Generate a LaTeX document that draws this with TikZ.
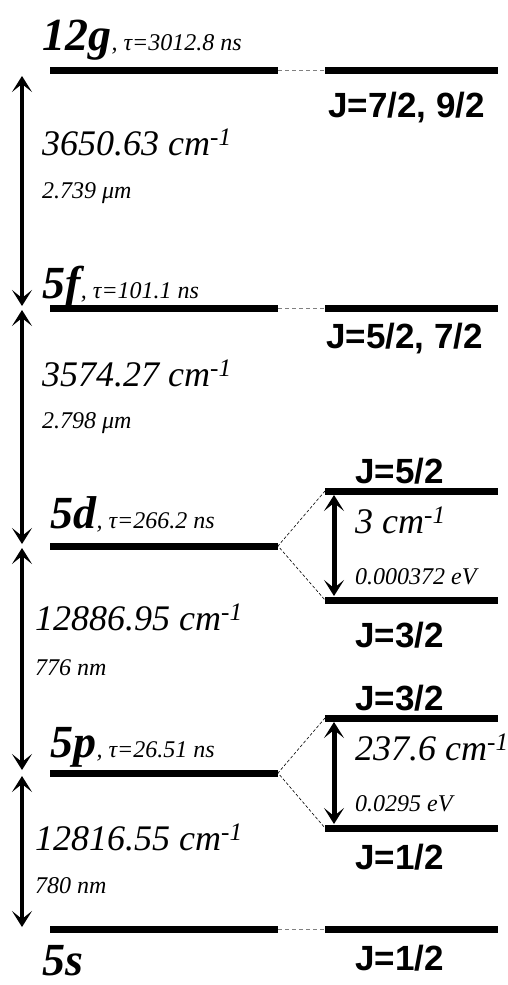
\documentclass[tikz,border=0pt]{standalone}
\usepackage{fontspec}
\setmainfont{Liberation Serif}
\newfontfamily\jfont{Liberation Sans}
\usetikzlibrary{arrows.meta, positioning, calc}
\tikzset{
  lvl/.style={line width=7pt, line cap=butt, black},
  link/.style={dashed, line width=0.8pt, dash pattern=on 4pt off 3pt, #1},
  link/.default=gray,
  gap/.style={{Stealth[length=16pt, width=20pt, inset=8pt]}-{Stealth[length=16pt, width=20pt, inset=8pt]}, line width=#1},
  gap/.default=4pt,
  term/.style={font=\fontsize{46}{50}\selectfont\bfseries\itshape, anchor=base west, inner sep=0pt},
  life/.style={font=\fontsize{24}{27}\selectfont\itshape, anchor=base west, inner sep=0pt},
  wnum/.style={font=\fontsize{36}{40}\selectfont\itshape, anchor=base west, inner sep=0pt},
  wlen/.style={font=\fontsize{24}{28}\selectfont\itshape, anchor=base west, inner sep=0pt},
  jlbl/.style={font=\jfont\fontsize{35}{40}\selectfont\bfseries, anchor=base west, inner sep=0pt},
}

\begin{document}
\begin{tikzpicture}[x=1pt, y=-1pt]
  \useasboundingbox (0,0) rectangle (508,985);

  % level end points
  \coordinate (g12L) at (50,70);   \coordinate (g12M) at (278,70);
  \coordinate (g12N) at (325,70);  \coordinate (g12R) at (498,70);
  \coordinate (f5L) at (50,308);   \coordinate (f5M) at (278,308);
  \coordinate (f5N) at (325,308);  \coordinate (f5R) at (498,308);
  \coordinate (d5L) at (50,546);   \coordinate (d5M) at (278,546);
  \coordinate (d5aN) at (325,491); \coordinate (d5aR) at (498,491);
  \coordinate (d5bN) at (325,600); \coordinate (d5bR) at (498,600);
  \coordinate (p5L) at (50,773);   \coordinate (p5M) at (278,773);
  \coordinate (p5aN) at (325,718); \coordinate (p5aR) at (498,718);
  \coordinate (p5bN) at (325,828); \coordinate (p5bR) at (498,828);
  \coordinate (s5L) at (50,929);   \coordinate (s5M) at (278,929);
  \coordinate (s5N) at (325,929);  \coordinate (s5R) at (498,929);

  \draw[lvl] (g12L) -- (g12M);  \draw[lvl] (g12N) -- (g12R);
  \draw[lvl] (f5L) -- (f5M);    \draw[lvl] (f5N) -- (f5R);
  \draw[lvl] (d5L) -- (d5M);
  \draw[lvl] (d5aN) -- (d5aR);  \draw[lvl] (d5bN) -- (d5bR);
  \draw[lvl] (p5L) -- (p5M);
  \draw[lvl] (p5aN) -- (p5aR);  \draw[lvl] (p5bN) -- (p5bR);
  \draw[lvl] (s5L) -- (s5M);    \draw[lvl] (s5N) -- (s5R);

  \draw[link] (g12M) -- (g12N);
  \draw[link] (f5M) -- (f5N);
  \draw[link] (s5M) -- (s5N);
  \draw[link=black, line width=0.6pt, dash pattern=on 3pt off 2pt] (d5aN) -- (d5M) -- (d5bN);
  \draw[link=black, line width=0.6pt, dash pattern=on 3pt off 2pt] (p5aN) -- (p5M) -- (p5bN);

  % spacings
  \coordinate (a1) at (22,76);  \coordinate (a2) at (22,306);
  \coordinate (a3) at (22,310); \coordinate (a4) at (22,544);
  \coordinate (a5) at (22,548); \coordinate (a6) at (22,770);
  \coordinate (a7) at (22,776); \coordinate (a8) at (22,927);
  \draw[gap] (a1) -- (a2);
  \draw[gap] (a3) -- (a4);
  \draw[gap] (a5) -- (a6);
  \draw[gap] (a7) -- (a8);
  \draw[gap=5pt] ($(d5aN)+(9,4)$) -- ($(d5bN)+(9,-4)$);
  \draw[gap=5pt] ($(p5aN)+(9,4)$) -- ($(p5bN)+(9,-4)$);

  % terms
  \node[term] (g12) at (42,50) {12g};
  \node[life] at (g12.base east) {, τ=3012.8 ns};
  \node[term] (f5) at (42,298) {5f};
  \node[life] at (f5.base east) {, τ=101.1 ns};
  \node[term] (d5) at (50,528) {5d};
  \node[life] at (d5.base east) {, τ=266.2 ns};
  \node[term] (p5) at (50,757) {5p};
  \node[life] at (p5.base east) {, τ=26.51 ns};
  \node[term] (s5) at (42,975) {5s};

  % transitions
  \node[wnum] (w1) at (42,155) {3650.63 cm\textsuperscript{-1}};
  \node[wlen] (l1) at (42,198) {2.739 μm};
  \node[wnum] (w2) at (42,386) {3574.27 cm\textsuperscript{-1}};
  \node[wlen] (l2) at (42,428) {2.798 μm};
  \node[wnum] (w3) at (35,630) {12886.95 cm\textsuperscript{-1}};
  \node[wlen] (l3) at (35,675) {776 nm};
  \node[wnum] (w4) at (35,850) {12816.55 cm\textsuperscript{-1}};
  \node[wlen] (l4) at (35,893) {780 nm};
  \node[wnum] (w5) at (355,533) {3 cm\textsuperscript{-1}};
  \node[wlen] (l5) at (355,584) {0.000372 eV};
  \node[wnum] (w6) at (355,760) {237.6 cm\textsuperscript{-1}};
  \node[wlen] (l6) at (355,811) {0.0295 eV};

  % fine structure
  \node[jlbl] (j1) at (328,117) {J=7/2, 9/2};
  \node[jlbl] (j2) at (326,348) {J=5/2, 7/2};
  \node[jlbl] (j3) at (355,483) {J=5/2};
  \node[jlbl] (j4) at (355,647) {J=3/2};
  \node[jlbl] (j5) at (355,710) {J=3/2};
  \node[jlbl] (j6) at (355,869) {J=1/2};
  \node[jlbl] (j7) at (355,970) {J=1/2};
\end{tikzpicture}
\end{document}
